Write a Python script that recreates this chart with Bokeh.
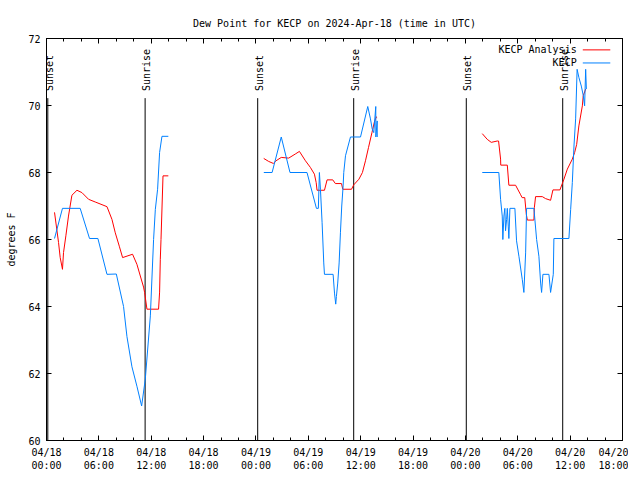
import math
from bokeh.plotting import figure
from bokeh.models import FixedTicker, LinearAxis, Range1d, Label, CustomJSTickFormatter
from bokeh.core.properties import value
from bokeh.embed import file_html
from bokeh.resources import INLINE

NAN = float("nan")

# hours since 2024-04-18 00:00 UTC
analysis_hours = [
    0.92, 1.38, 1.57, 1.83, 1.95, 2.22, 2.52, 2.91, 3.49, 4.06, 4.82, 5.58, 6.93, 7.5, 7.88,
    8.34, 8.72, 9.86, 10.36, 10.75, 11.12, 11.24, 11.51, 12.84, 12.96, 13.04, 13.12, 13.35, 13.96,
    NAN,
    24.89, 25.46, 26.0, 26.3, 26.9, 27.75, 28.5, 28.98, 29.67, 30.24, 30.7, 30.9, 31.0, 31.85,
    32.15, 32.8, 33.1, 33.8, 33.95, 34.95, 35.2, 35.8, 36.2, 36.55, 36.9, 37.3, 37.6, 37.8, 37.88,
    NAN,
    49.93, 50.5, 50.96, 51.65, 51.8, 52.03, 52.05, 52.8, 52.98, 53.75, 54.3, 54.5, 54.8, 54.98,
    55.1, 55.85, 55.9, 56.04, 56.81, 57.19, 57.76, 58.03, 58.83, 59.29, 59.68, 60.25, 60.52,
    60.75, 61.0, 61.4, 61.5, 61.78,
]
analysis_dewpt = [
    66.81, 65.91, 65.46, 65.11, 65.61, 66.11, 66.7, 67.32, 67.47, 67.4, 67.2, 67.12, 66.98, 66.6, 66.2,
    65.8, 65.46, 65.56, 65.26, 64.91, 64.58, 64.42, 63.92, 63.92, 64.43, 65.41, 66.0, 67.9, 67.9,
    NAN,
    68.42, 68.33, 68.27, 68.35, 68.45, 68.43, 68.55, 68.63, 68.35, 68.15, 67.95, 67.7, 67.47, 67.47,
    67.78, 67.78, 67.67, 67.67, 67.5, 67.5, 67.63, 67.8, 68.0, 68.35, 68.75, 69.2, 69.54, 69.66, 69.64,
    NAN,
    69.16, 68.99, 68.9, 68.94, 68.94, 68.4, 68.22, 68.22, 67.62, 67.62, 67.35, 67.25, 67.25, 66.75,
    66.58, 66.58, 66.95, 67.28, 67.28, 67.22, 67.17, 67.48, 67.48, 67.8, 68.1, 68.4, 68.6,
    68.84, 69.39, 69.99, 70.29, 70.49,
]

obs_hours = [
    0.92, 1.83, 3.86, 4.93, 5.89, 6.93, 8.0, 8.83, 9.22, 9.79, 10.36, 10.9, 11.32, 11.9, 12.27,
    12.47, 12.73, 12.96, 13.23, 13.96,
    NAN,
    24.9, 25.85, 26.9, 27.9, 29.85, 30.93, 31.15, 31.27, 31.39, 31.58, 31.77, 31.85, 32.84, 33.0,
    33.14, 33.22, 33.37, 33.53, 33.68, 33.83, 33.99, 34.06, 34.26, 34.83, 35.98, 36.81, 37.12,
    37.32, 37.5, 37.73, 37.74, 37.89, 37.9,
    NAN,
    49.93, 51.83, 52.03, 52.22, 52.29, 52.41, 52.52, 52.6, 52.72, 52.8, 52.91, 52.98, 53.1, 53.67,
    53.86, 54.13, 54.52, 54.7, 54.9, 55.01, 55.85, 56.16, 56.42, 56.62, 56.73, 56.88, 57.57,
    57.76, 58.07, 58.14, 59.86, 60.06, 60.25, 60.44, 60.63, 60.8, 61.01, 61.28, 61.51, 61.66,
    61.78, 61.86,
]
obs_dewpt = [
    66.03, 66.93, 66.93, 66.03, 66.03, 64.96, 64.97, 64.0, 63.1, 62.2, 61.62, 61.03, 61.83, 63.72, 66.0,
    66.9, 67.5, 68.6, 69.08, 69.08,
    NAN,
    68.0, 68.0, 69.06, 68.0, 68.0, 66.93, 66.93, 68.0, 67.5, 66.5, 65.3, 64.96, 64.96, 64.4,
    64.07, 64.3, 64.7, 65.3, 66.2, 67.0, 67.6, 68.0, 68.5, 69.06, 69.06, 69.97, 69.6,
    69.3, 69.19, 69.97, 69.06, 69.54, 69.06,
    NAN,
    68.0, 68.0, 67.2, 66.7, 66.0, 66.7, 66.93, 66.26, 66.6, 66.93, 66.4, 66.03, 66.93, 66.93,
    65.96, 65.5, 64.8, 64.42, 65.6, 66.93, 66.93, 66.0, 65.5, 64.7, 64.42, 64.96, 64.96,
    64.42, 64.96, 66.03, 66.03, 66.9, 67.7, 68.79, 69.6, 71.08, 70.83, 70.58, 70.29, 69.99,
    71.08, 70.49,
]

sun_hours = [0.15, 11.3, 24.2, 35.2, 48.1, 59.15]
sun_names = ["Sunset", "Sunrise", "Sunset", "Sunrise", "Sunset", "Sunrise"]

x_ticks = [0, 6, 12, 18, 24, 30, 36, 42, 48, 54, 60, 66]
x_tick_labels = [
    "04/18\n00:00", "04/18\n06:00", "04/18\n12:00", "04/18\n18:00",
    "04/19\n00:00", "04/19\n06:00", "04/19\n12:00", "04/19\n18:00",
    "04/20\n00:00", "04/20\n06:00", "04/20\n12:00", "04/20\n18:00",
]
y_ticks = [60, 62, 64, 66, 68, 70, 72]

series_names = ["KECP Analysis", "KECP"]
RED = "#ff0000"
BLUE = "#0080ff"
FONT = "DejaVu Sans Mono"
FS = "10px"

p = figure(
    frame_width=576, frame_height=402,
    x_range=Range1d(0, 66), y_range=Range1d(60, 72),
    output_backend="svg", toolbar_location=None,
    min_border_left=46, min_border_right=6, min_border_top=38, min_border_bottom=26,
    title="Dew Point for KECP on 2024-Apr-18 (time in UTC)",
)
p.title.align = "center"
p.title.text_font = FONT
p.title.text_font_size = FS
p.title.text_font_style = "normal"
p.title.text_color = "black"
p.title.standoff = 20
p.outline_line_color = "black"
p.outline_line_width = 1
p.grid.grid_line_color = None
p.background_fill_color = "white"
p.border_fill_color = "white"

xa = p.xaxis[0]
xa.ticker = FixedTicker(ticks=x_ticks, minor_ticks=list(range(0, 67, 2)))
xa.major_label_overrides = {t: l for t, l in zip(x_ticks, x_tick_labels)}
ya = p.yaxis[0]
ya.ticker = FixedTicker(ticks=y_ticks, minor_ticks=[])
ya.axis_label = "degrees F"

for ax in (xa, ya):
    ax.major_tick_in = 5
    ax.major_tick_out = 0
    ax.minor_tick_in = 3
    ax.minor_tick_out = 0
    ax.major_label_text_font = FONT
    ax.major_label_text_font_size = FS
    ax.major_label_text_color = "black"
    ax.axis_label_text_font = FONT
    ax.axis_label_text_font_size = FS
    ax.axis_label_text_font_style = "normal"
    ax.axis_label_text_color = "black"
    ax.axis_line_color = "black"
    ax.major_tick_line_color = "black"
    ax.minor_tick_line_color = "black"
xa.major_label_standoff = 6
ya.major_label_standoff = 6
ya.axis_label_standoff = 8

empty = CustomJSTickFormatter(code="return ''")
top = LinearAxis(ticker=FixedTicker(ticks=x_ticks, minor_ticks=list(range(0, 67, 2))), formatter=empty)
right = LinearAxis(ticker=FixedTicker(ticks=y_ticks, minor_ticks=[]), formatter=empty)
for ax in (top, right):
    ax.major_tick_in = 5
    ax.major_tick_out = 0
    ax.minor_tick_in = 3
    ax.minor_tick_out = 0
    ax.major_label_standoff = 0
    ax.major_label_text_font_size = "0px"
    ax.axis_line_color = "black"
p.add_layout(top, "above")
p.add_layout(right, "right")

# sunrise / sunset markers
p.segment(x0=sun_hours, y0=[60] * 6, x1=sun_hours, y1=[70.22] * 6, line_color="black", line_width=1)
p.text(x=sun_hours, y=[70.43] * 6, text=sun_names, angle=math.pi / 2,
       text_align="left", text_baseline="middle", x_offset=1.5,
       text_font=value(FONT), text_font_size=FS, text_color="black")

p.line(analysis_hours, analysis_dewpt, line_color=RED, line_width=1)
p.line(obs_hours, obs_dewpt, line_color=BLUE, line_width=1)

# key (top right)
key_y = [71.66, 71.27]
for name, col, ky in zip(series_names, [RED, BLUE], key_y):
    p.add_layout(Label(x=60.75, y=ky, text=name, text_align="right", text_baseline="middle",
                       text_font=FONT, text_font_size=FS, text_color="black"))
    p.line([61.45, 64.6], [ky, ky], line_color=col, line_width=1)

open("out.html", "w").write(file_html(p, INLINE))
